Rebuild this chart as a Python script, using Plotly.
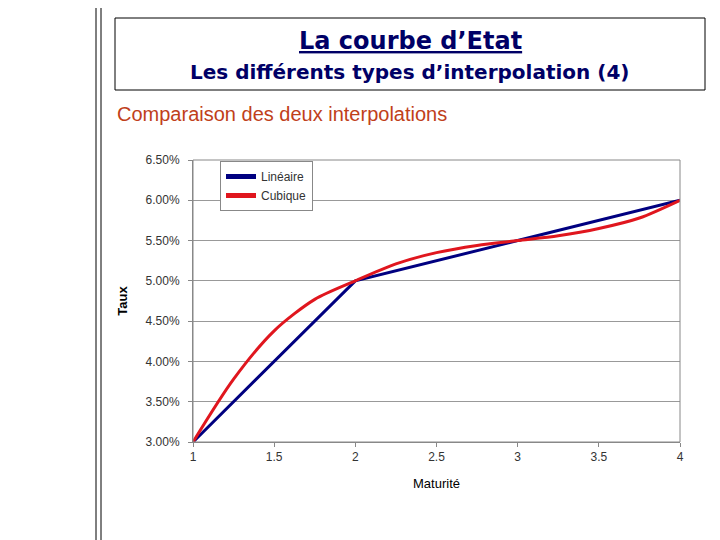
import plotly.graph_objects as go

mat = [1, 2, 3, 4]
lin = [0.03, 0.05, 0.055, 0.06]
mat_c = [1, 1.25, 1.5, 1.75, 2, 2.25, 2.5, 2.75, 3, 3.25, 3.5, 3.75, 4]
cub = [0.03, 0.0378, 0.0438, 0.0477, 0.05, 0.0521, 0.0535, 0.0544, 0.055, 0.0556, 0.0565, 0.0578, 0.06]

def px(X):
    return (X - 193) / 487
def py(Y):
    return (442 - Y) / 282

fig = go.Figure()
fig.add_trace(go.Scatter(x=mat, y=lin, mode="lines", name="Linéaire", line=dict(color="#000080", width=3)))
fig.add_trace(go.Scatter(x=mat_c, y=cub, mode="lines", name="Cubique", line=dict(color="#E0161E", width=3, shape="spline", smoothing=0.8)))

fig.update_layout(
    width=720, height=540, paper_bgcolor="white", plot_bgcolor="white",
    margin=dict(l=185, r=48, t=152, b=106),
    font=dict(family="Liberation Sans, Arial", size=12, color="#333"),
    showlegend=True,
    legend=dict(x=px(220), y=py(161), xanchor="left", yanchor="top", bgcolor="white",
                bordercolor="#888", borderwidth=1, font=dict(size=12), tracegroupgap=0,
                itemwidth=30, itemsizing="constant"),
    xaxis=dict(range=[1, 4], tickvals=[1, 1.5, 2, 2.5, 3, 3.5, 4], ticktext=["1", "1.5", "2", "2.5", "3", "3.5", "4"],
               showgrid=False, showline=True, linecolor="#888", ticks="outside", ticklen=4, tickcolor="#888",
               title=dict(text="Maturité", font=dict(size=13, color="black")), zeroline=False),
    yaxis=dict(range=[0.03, 0.065], dtick=0.005, tickformat=".2%", showgrid=True, gridcolor="#999",
               showline=True, linecolor="#888", ticks="outside", ticklen=4, tickcolor="#888", zeroline=False,
               ticklabelstandoff=6,
               title=dict(text="<b>Taux</b>", font=dict(size=13, color="black"))),
    shapes=[
        dict(type="rect", xref="paper", yref="paper", x0=0, x1=1, y0=0, y1=1, line=dict(color="#888", width=1)),
        dict(type="rect", xref="paper", yref="paper", x0=px(115), x1=px(705), y0=py(90), y1=py(18),
             line=dict(color="black", width=1)),
        dict(type="line", xref="paper", yref="paper", x0=px(96), x1=px(96), y0=py(560), y1=py(-20),
             line=dict(color="black", width=1)),
        dict(type="line", xref="paper", yref="paper", x0=px(101), x1=px(101), y0=py(560), y1=py(-20),
             line=dict(color="black", width=1)),
    ],
    annotations=[
        dict(text="<u>La courbe d’Etat</u>", xref="paper", yref="paper", x=px(410), y=py(41),
             xanchor="center", yanchor="middle",
             showarrow=False, font=dict(size=24, color="#000066", family="DejaVu Sans", weight=600)),
        dict(text="Les différents types d’interpolation (4)", xref="paper", yref="paper", x=px(410), y=py(72),
             xanchor="center", yanchor="middle",
             showarrow=False, font=dict(size=20, color="#000066", family="DejaVu Sans", weight=600)),
        dict(text="Comparaison des deux interpolations", xref="paper", yref="paper", x=px(115), y=py(114),
             xanchor="left", yanchor="middle", showarrow=False,
             font=dict(size=20, color="#C0401A", family="Liberation Sans, Arial")),
    ],
)
fig.write_html("out.html")
